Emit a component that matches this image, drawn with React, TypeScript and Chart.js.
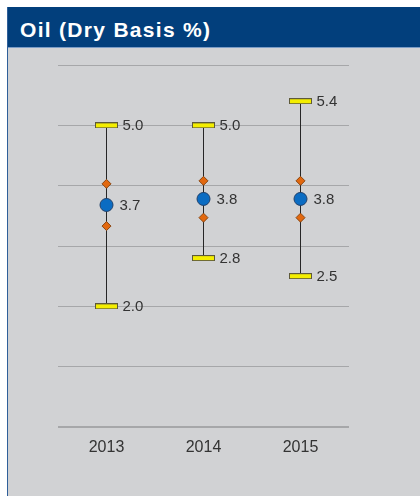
import React, { useEffect, useRef } from "react";
import { Chart, registerables } from "chart.js";

Chart.register(...registerables);

const categories = ["2013", "2014", "2015"];
const maxValues = [5.0, 5.0, 5.4];
const minValues = [2.0, 2.8, 2.5];
const meanValues = [3.68, 3.78, 3.78];
const upperValues = [4.03, 4.08, 4.08];
const lowerValues = [3.33, 3.47, 3.47];
const yMin = 0;
const yMax = 6;
const yStep = 1;

function makeCap(): HTMLCanvasElement {
  const c = document.createElement("canvas");
  c.width = 23;
  c.height = 6;
  const g = c.getContext("2d")!;
  g.fillStyle = "#f4ee00";
  g.fillRect(0, 0, 23, 6);
  g.strokeStyle = "#5e5a3a";
  g.lineWidth = 1;
  g.strokeRect(0.5, 0.5, 22, 5);
  return c;
}

const valueLabels = {
  id: "valueLabels",
  afterDatasetsDraw(chart: any) {
    const ctx = chart.ctx;
    ctx.save();
    ctx.font = "15px Arial, 'Liberation Sans', sans-serif";
    ctx.fillStyle = "#333333";
    ctx.textAlign = "left";
    ctx.textBaseline = "middle";
    chart.data.datasets.forEach((ds: any, i: number) => {
      if (ds.labelOffset == null) return;
      const meta = chart.getDatasetMeta(i);
      meta.data.forEach((pt: any, j: number) => {
        ctx.fillText(Number(ds.data[j]).toFixed(1), pt.x + ds.labelOffset, pt.y + 1);
      });
    });
    ctx.restore();
  },
};

export default function App() {
  const ref = useRef<HTMLCanvasElement | null>(null);

  useEffect(() => {
    if (!ref.current) return;
    const cap = makeCap();
    const chart = new Chart(ref.current, {
      type: "bar",
      data: {
        labels: categories,
        datasets: [
          {
            type: "bar",
            data: categories.map((_, i) => [minValues[i], maxValues[i]]) as any,
            backgroundColor: "#262626",
            borderWidth: 0,
            barThickness: 1,
            inflateAmount: 0,
            order: 10,
          } as any,
          {
            type: "line",
            data: maxValues,
            showLine: false,
            pointStyle: cap,
            pointRadius: 6,
            order: 2,
            labelOffset: 16,
          } as any,
          {
            type: "line",
            data: minValues,
            showLine: false,
            pointStyle: cap,
            pointRadius: 6,
            order: 2,
            labelOffset: 16,
          } as any,
          {
            type: "line",
            data: meanValues,
            showLine: false,
            pointStyle: "circle",
            pointRadius: 6.5,
            pointBackgroundColor: "#0b6cc2",
            pointBorderColor: "#20406a",
            pointBorderWidth: 1,
            order: 0,
            labelOffset: 13,
          } as any,
          {
            type: "line",
            data: upperValues,
            showLine: false,
            pointStyle: "rectRot",
            pointRadius: 4.5,
            pointBackgroundColor: "#e2680f",
            pointBorderColor: "#8a4510",
            pointBorderWidth: 1,
            order: 1,
          } as any,
          {
            type: "line",
            data: lowerValues,
            showLine: false,
            pointStyle: "rectRot",
            pointRadius: 4.5,
            pointBackgroundColor: "#e2680f",
            pointBorderColor: "#8a4510",
            pointBorderWidth: 1,
            order: 1,
          } as any,
        ],
      },
      options: {
        responsive: false,
        animation: false,
        layout: { padding: { left: 50, right: 71, top: 17, bottom: 0 } },
        plugins: {
          legend: { display: false },
          tooltip: { enabled: false },
        },
        scales: {
          x: {
            type: "category",
            offset: true,
            grid: { display: false, drawTicks: false },
            border: { display: false },
            ticks: {
              color: "#333333",
              font: { family: "Arial, 'Liberation Sans', sans-serif", size: 16 },
              padding: 11,
              maxRotation: 0,
            },
            afterFit: (s: any) => {
              s.height = 69;
            },
          },
          y: {
            min: yMin,
            max: yMax,
            ticks: { display: false, stepSize: yStep },
            grid: {
              color: "#a6a7a9",
              lineWidth: (c: any) => (c.tick && c.tick.value === 0 ? 2 : 1),
              drawTicks: false,
            },
            border: { display: false },
            afterFit: (s: any) => {
              s.width = 0;
            },
          },
        },
      } as any,
      plugins: [valueLabels],
    });
    return () => chart.destroy();
  }, []);

  return (
    <div
      style={{
        position: "absolute",
        left: 7,
        top: 7,
        width: 412,
        height: 489,
        background: "#d1d2d4",
        borderLeft: "1px solid #2f5f99",
        overflow: "hidden",
      }}
    >
      <div
        style={{
          position: "absolute",
          left: 0,
          top: 0,
          width: 412,
          height: 40,
          background: "#023f7c",
          boxSizing: "border-box",
          paddingLeft: 12,
          paddingTop: 5,
          lineHeight: "35px",
          color: "#ffffff",
          fontFamily: "Arial, 'Liberation Sans', sans-serif",
          fontWeight: "bold",
          fontSize: 21,
          letterSpacing: "1.3px",
          whiteSpace: "nowrap",
        }}
      >
        Oil (Dry Basis %)
      </div>
      <div
        style={{
          position: "absolute",
          left: 0,
          top: 40,
          width: 412,
          height: 1,
          background: "#7b9cc6",
        }}
      />
      <canvas
        ref={ref}
        width={412}
        height={448}
        style={{ position: "absolute", left: 0, top: 41, display: "block" }}
      />
    </div>
  );
}
